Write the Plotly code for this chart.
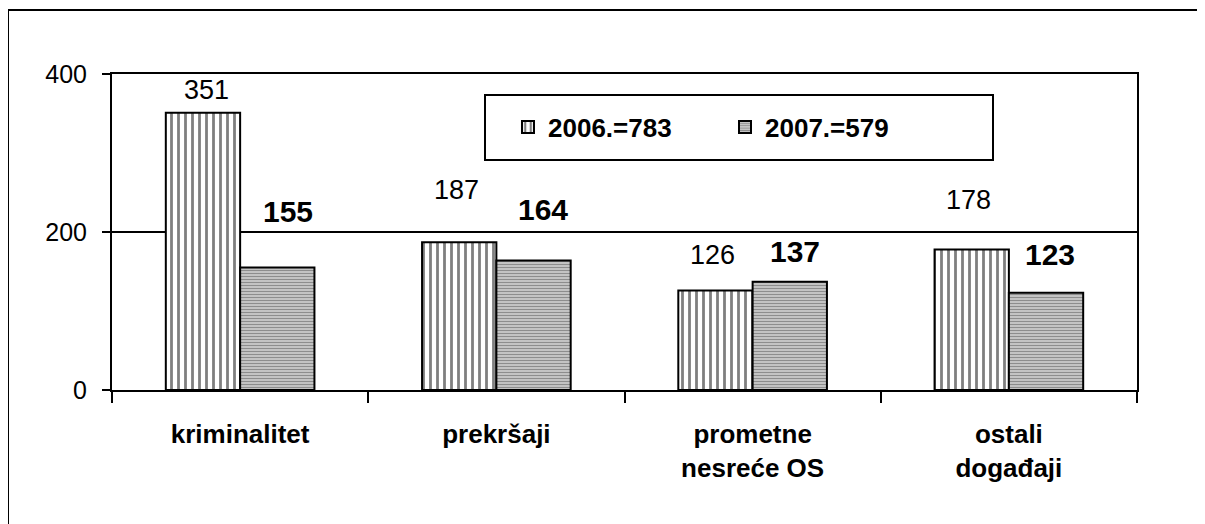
import plotly.graph_objects as go

categories = ["kriminalitet", "prekršaji", "prometne<br>nesreće OS", "ostali<br>događaji"]
values_2006 = [351, 187, 126, 178]
values_2007 = [155, 164, 137, 123]
series_names = ["2006.=783", "2007.=579"]
y_ticks = [0, 200, 400]

# label nudges in pixels (style only): (xshift, gap above bar)
nudge_2006 = [(4, 10), (-3, 39), (-3, 22), (-3, 36)]
nudge_2007 = [(11, 42), (9, 36), (5, 16), (4, 24)]

FONT = "Liberation Sans, Arial, sans-serif"
OFF = 8  # page body margin
W, H = 1205 - OFF, 524 - OFF
PL, PT, PR, PB = 112, 74, 1137, 390  # plot area in page pixels
L, T = PL - OFF, PT - OFF
R = W - (PR - OFF)
B = H - (PB - OFF)
BARGAP = 0.42

fig = go.Figure()
fig.add_trace(go.Bar(
    x=list(range(len(categories))), y=values_2006, name=series_names[0],
    marker=dict(color="white", line=dict(color="black", width=2),
                pattern=dict(shape="|", size=7, solidity=0.4, fgcolor="black", bgcolor="white")),
))
fig.add_trace(go.Bar(
    x=list(range(len(categories))), y=values_2007, name=series_names[1],
    marker=dict(color="white", line=dict(color="black", width=2),
                pattern=dict(shape="-", size=3, solidity=0.6, fgcolor="#333333", bgcolor="#e6e6e6")),
))

bw = (1 - BARGAP) / 2
annotations = []
for i, v in enumerate(values_2006):
    dx, gap = nudge_2006[i]
    annotations.append(dict(x=i - bw / 2, y=v, xref="x", yref="y", text=str(v), showarrow=False,
                            yanchor="bottom", xanchor="center", xshift=dx, yshift=gap - 4,
                            font=dict(family=FONT, size=27, color="black")))
for i, v in enumerate(values_2007):
    dx, gap = nudge_2007[i]
    annotations.append(dict(x=i + bw / 2, y=v, xref="x", yref="y", text="<b>%d</b>" % v, showarrow=False,
                            yanchor="bottom", xanchor="center", xshift=dx, yshift=gap - 4,
                            font=dict(family=FONT, size=30, color="black")))

pw = PR - PL
ph = PB - PT
def px_x(p):
    return (p - PL) / pw
def px_y(p):
    return (PB - p) / ph

shapes = [
    # outer frame
    dict(type="rect", xref="paper", yref="paper", x0=px_x(8), x1=px_x(1230), y0=px_y(545), y1=px_y(10),
         line=dict(color="black", width=2), fillcolor="rgba(0,0,0,0)", layer="above"),
    # legend frame
    dict(type="rect", xref="paper", yref="paper", x0=px_x(485), x1=px_x(993), y0=px_y(160), y1=px_y(95),
         line=dict(color="black", width=2), fillcolor="white", layer="below"),
]

fig.update_layout(
    width=W, height=H,
    margin=dict(l=L, r=R, t=T, b=B, pad=0),
    paper_bgcolor="white", plot_bgcolor="white",
    barmode="group", bargap=BARGAP, bargroupgap=0,
    font=dict(family=FONT, color="black"),
    showlegend=True,
    legend=dict(orientation="h", x=px_x(508), xanchor="left", y=px_y(127), yanchor="middle",
                bgcolor="rgba(0,0,0,0)", borderwidth=0, entrywidthmode="pixels", entrywidth=172,
                font=dict(family=FONT, size=26, color="black", weight="bold")),
    xaxis=dict(type="linear", range=[-0.5, len(categories) - 0.5],
               tickvals=list(range(len(categories))), ticktext=["<b>%s</b>" % c for c in categories],
               showgrid=False, zeroline=False, showline=True, mirror=True, linecolor="black", linewidth=2,
               ticks="", tickfont=dict(family=FONT, size=26, color="black"), ticklabelstandoff=20),
    xaxis2=dict(overlaying="x", range=[-0.5, len(categories) - 0.5], tickvals=[i - 0.5 for i in range(len(categories) + 1)],
                showticklabels=False, ticks="outside", ticklen=12, tickwidth=2, tickcolor="black",
                showgrid=False, zeroline=False, showline=False, side="bottom", anchor="y"),
    yaxis=dict(range=[0, 400], tickvals=y_ticks, showgrid=True, gridcolor="black", gridwidth=2,
               zeroline=False, showline=True, mirror=True, linecolor="black", linewidth=2,
               ticks="outside", ticklen=8, tickwidth=2, tickcolor="black",
               tickfont=dict(family=FONT, size=25, color="black"), ticklabelstandoff=10),
    annotations=annotations, shapes=shapes,
)
# invisible helper trace so the boundary ticks of xaxis2 are drawn
fig.add_trace(go.Scatter(x=[0], y=[0], xaxis="x2", yaxis="y", mode="markers",
                         marker=dict(opacity=0), showlegend=False, hoverinfo="skip"))

fig.write_html("out.html")
